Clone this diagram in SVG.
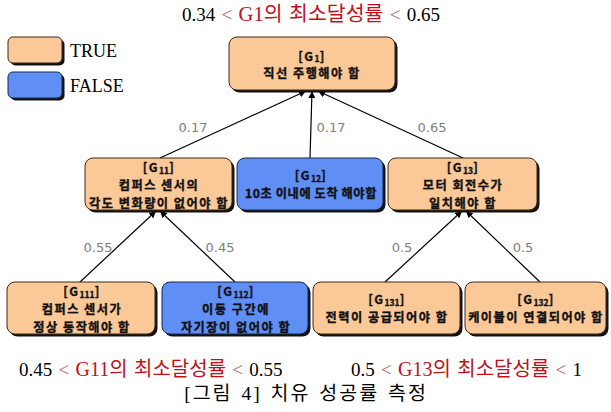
<svg xmlns="http://www.w3.org/2000/svg" width="611" height="412" viewBox="0 0 611 412">
<defs>
<marker id="ah" viewBox="0 0 10 10" refX="10" refY="5" markerWidth="7" markerHeight="7" orient="auto" markerUnits="userSpaceOnUse">
<path d="M0,0 L10,5 L0,10 z" fill="#000"/>
</marker>
<style>
.sh{fill:#111;}
.t{fill:#fbc898;stroke:#3a2a1a;stroke-width:1;}
.f{fill:#5f8ef5;stroke:#1a2a4a;stroke-width:1;}
.bt{font-family:"Noto Sans CJK KR","Noto Sans",sans-serif;font-weight:bold;font-size:12.2px;letter-spacing:1.5px;fill:#111;stroke:#111;stroke-width:0.35;text-anchor:middle;}
.sub{font-size:8.5px;letter-spacing:0;}
.edge{stroke:#000;stroke-width:1.2;fill:none;marker-end:url(#ah);}
.w{font-family:"DejaVu Sans","Liberation Sans",sans-serif;font-size:13px;fill:#808080;text-anchor:middle;}
.cap{font-family:"Liberation Serif","Noto Sans CJK KR",serif;font-size:19px;word-spacing:1.5px;fill:#000;}
.red{fill:#c0101a;font-size:20px;}
.lt{fill:#c06070;}
</style>
</defs>
<rect width="611" height="412" fill="#fff"/>

<g id="header">
<text class="cap" x="311" y="21" text-anchor="middle" style="font-size:19px">0.34 <tspan class="lt">&lt;</tspan> <tspan class="red" style="font-size:20.5px">G1의 최소달성률</tspan> <tspan class="lt">&lt;</tspan> 0.65</text>
</g>

<g id="legend">
<rect class="sh" x="10.5" y="39.5" width="54" height="26" rx="5"/>
<rect class="t" x="8" y="37" width="54" height="26" rx="5"/>
<text class="cap" x="70" y="57" style="font-size:18px">TRUE</text>
<rect class="sh" x="10.5" y="74.5" width="54" height="26" rx="5"/>
<rect class="f" x="8" y="72" width="54" height="26" rx="5"/>
<text class="cap" x="70" y="92" style="font-size:18px">FALSE</text>
</g>

<g id="connectors">
<line class="edge" x1="160" y1="158" x2="306" y2="91"/>
<line class="edge" x1="310" y1="158" x2="312" y2="91"/>
<line class="edge" x1="463" y1="158" x2="318" y2="91"/>
<line class="edge" x1="80" y1="282" x2="156" y2="211"/>
<line class="edge" x1="235" y1="282" x2="160" y2="211"/>
<line class="edge" x1="385" y1="282" x2="462" y2="211"/>
<line class="edge" x1="540" y1="282" x2="466" y2="211"/>
<text class="w" x="193" y="132">0.17</text>
<text class="w" x="331" y="132">0.17</text>
<text class="w" x="432" y="132">0.65</text>
<text class="w" x="98" y="252">0.55</text>
<text class="w" x="220" y="252">0.45</text>
<text class="w" x="402" y="252">0.5</text>
<text class="w" x="523" y="252">0.5</text>
</g>

<g id="G1">
<rect class="sh" x="231.5" y="39.5" width="166" height="53" rx="8"/>
<rect class="t" x="229" y="37" width="166" height="53" rx="8"/>
<text class="bt" x="312" y="60.5">[G<tspan class="sub" dy="1.5">1</tspan><tspan dy="-1.5">]</tspan></text>
<text class="bt" x="312" y="78.3">직선 주행해야 함</text>
</g>

<g id="G11">
<rect class="sh" x="87.5" y="160.5" width="147" height="52" rx="8"/>
<rect class="t" x="85" y="158" width="147" height="52" rx="8"/>
<text class="bt" x="159" y="172.3">[G<tspan class="sub" dy="1.5">11</tspan><tspan dy="-1.5">]</tspan></text>
<text class="bt" x="159" y="190.1">컴퍼스 센서의</text>
<text class="bt" x="159" y="207.9">각도 변화량이 없어야 함</text>
</g>

<g id="G12">
<rect class="sh" x="239.5" y="160.5" width="146" height="52" rx="8"/>
<rect class="f" x="237" y="158" width="146" height="52" rx="8"/>
<text class="bt" x="311" y="180">[G<tspan class="sub" dy="1.5">12</tspan><tspan dy="-1.5">]</tspan></text>
<text class="bt" x="311" y="197.8" style="letter-spacing:0.6px">10초 이내에 도착 해야함</text>
</g>

<g id="G13">
<rect class="sh" x="390.5" y="160.5" width="149" height="52" rx="8"/>
<rect class="t" x="388" y="158" width="149" height="52" rx="8"/>
<text class="bt" x="463" y="172.3">[G<tspan class="sub" dy="1.5">13</tspan><tspan dy="-1.5">]</tspan></text>
<text class="bt" x="463" y="190.1">모터 회전수가</text>
<text class="bt" x="463" y="207.9">일치해야 함</text>
</g>

<g id="G111">
<rect class="sh" x="9.5" y="284.5" width="148" height="52" rx="8"/>
<rect class="t" x="7" y="282" width="148" height="52" rx="8"/>
<text class="bt" x="82" y="296.3">[G<tspan class="sub" dy="1.5">111</tspan><tspan dy="-1.5">]</tspan></text>
<text class="bt" x="82" y="314.1">컴퍼스 센서가</text>
<text class="bt" x="82" y="331.9">정상 동작해야 함</text>
</g>

<g id="G112">
<rect class="sh" x="164.5" y="284.5" width="146" height="52" rx="8"/>
<rect class="f" x="162" y="282" width="146" height="52" rx="8"/>
<text class="bt" x="236" y="296.3">[G<tspan class="sub" dy="1.5">112</tspan><tspan dy="-1.5">]</tspan></text>
<text class="bt" x="236" y="314.1">이동 구간에</text>
<text class="bt" x="236" y="331.9">자기장이 없어야 함</text>
</g>

<g id="G131">
<rect class="sh" x="315.5" y="284.5" width="147" height="52" rx="8"/>
<rect class="t" x="313" y="282" width="147" height="52" rx="8"/>
<text class="bt" x="387" y="304">[G<tspan class="sub" dy="1.5">131</tspan><tspan dy="-1.5">]</tspan></text>
<text class="bt" x="387" y="321.8">전력이 공급되어야 함</text>
</g>

<g id="G132">
<rect class="sh" x="467.5" y="284.5" width="141" height="52" rx="8"/>
<rect class="t" x="465" y="282" width="141" height="52" rx="8"/>
<text class="bt" x="536" y="304">[G<tspan class="sub" dy="1.5">132</tspan><tspan dy="-1.5">]</tspan></text>
<text class="bt" x="536" y="321.8">케이블이 연결되어야 함</text>
</g>

<g id="footer">
<text class="cap" x="19" y="376">0.45 <tspan class="lt">&lt;</tspan> <tspan class="red">G11의 최소달성률</tspan> <tspan class="lt">&lt;</tspan> 0.55</text>
<text class="cap" x="351" y="376">0.5 <tspan class="lt">&lt;</tspan> <tspan class="red">G13의 최소달성률</tspan> <tspan class="lt">&lt;</tspan> 1</text>
<text class="cap" x="306" y="400" text-anchor="middle" style="font-size:19.5px;letter-spacing:2px;word-spacing:2px">[그림 4] 치유 성공률 측정</text>
</g>
</svg>
